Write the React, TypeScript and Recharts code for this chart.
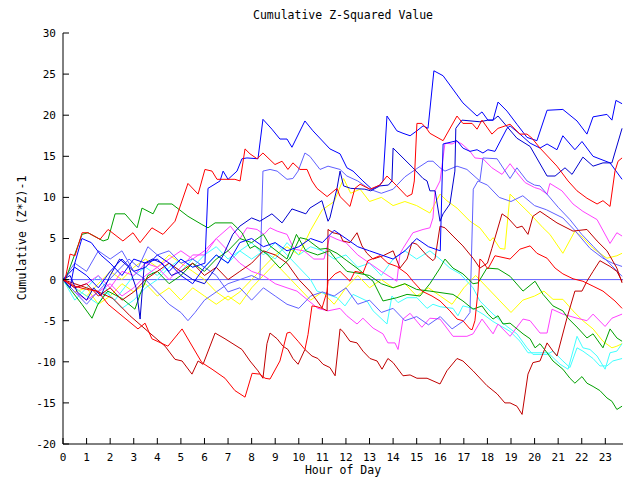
import React from 'react';
import { LineChart, Line, XAxis, YAxis, ReferenceLine } from 'recharts';

type P = [number, number];

const hourTicks = [0, 1, 2, 3, 4, 5, 6, 7, 8, 9, 10, 11, 12, 13, 14, 15, 16, 17, 18, 19, 20, 21, 22, 23];
const valueTicks = [-20, -15, -10, -5, 0, 5, 10, 15, 20, 25, 30];

const redTop: P[] = [[0,0],[0.08,-0.2],[0.3,3.1],[0.51,2.9],[0.81,5.7],[1.06,5.7],[1.57,4.9],[1.91,6.1],[2.54,4.7],[2.97,5.7],[3.27,4.5],[3.77,6.3],[4.24,5.5],[4.75,7.1],[5.3,11.7],[5.73,10.4],[6.02,13.4],[6.32,13.2],[6.53,12.2],[7.29,12.2],[7.51,12.0],[7.72,15.9],[7.93,15.3],[8.23,14.7],[8.48,15.4],[8.99,14.0],[9.29,14.4],[9.54,13.4],[9.75,14.2],[10.05,13.4],[10.35,13.4],[10.56,12.0],[10.77,11.1],[11.2,10.1],[11.62,11.1],[11.75,10.1],[12.17,8.9],[12.38,11.1],[12.6,11.6],[13.02,11.0],[13.44,11.5],[13.74,12.6],[14.16,11.4],[14.59,10.1],[14.8,10.4],[14.9,12.0],[15.01,19.0],[15.22,19.0],[15.44,18.3],[15.56,17.8],[16.12,16.9],[16.71,19.9],[16.96,19.0],[17.35,19.0],[17.56,18.3],[17.77,19.4],[18.19,17.7],[18.45,18.4],[18.96,18.9],[19.38,17.7],[19.68,17.7],[19.89,17.2],[20.23,16.0],[20.95,13.8],[21.42,12.0],[21.8,10.8],[22.22,9.9],[22.65,9.2],[22.9,9.6],[23.2,8.9],[23.41,13.2],[23.54,14.4],[23.71,14.8]];

const redBottom: P[] = [[0,0],[0.5,-0.8],[1.0,-1.2],[1.48,-1.4],[1.91,-3.0],[3.18,-6.0],[3.48,-5.3],[3.77,-7.2],[4.45,-8.1],[5.05,-6.0],[5.89,-10.1],[6.32,-10.9],[6.87,-12.0],[7.29,-13.5],[7.72,-14.3],[8.02,-11.4],[8.35,-11.5],[8.57,-12.0],[8.78,-12.1],[9.2,-9.9],[9.5,-6.5],[9.63,-6.4],[9.97,-7.5],[10.26,-8.5],[10.39,-6.7],[10.56,-3.2],[10.77,-3.3],[10.98,-3.5],[11.2,-1.4],[11.24,-0.2],[11.54,0.7],[11.75,1.0],[12.17,-0.2],[12.38,1.0],[12.72,0.8],[12.93,2.3],[13.44,2.9],[13.78,2.0],[14.16,1.6],[14.59,0.7],[14.84,-0.2],[15.22,-1.4],[15.65,-2.0],[15.99,-2.6],[16.41,-3.8],[16.71,-4.8],[16.96,-5.0],[17.26,-6.0],[17.35,-6.1],[17.47,-5.0],[17.6,-1.4],[17.68,2.5],[17.77,2.3],[18.02,1.3],[18.32,2.9],[18.96,2.5],[19.38,3.7],[19.81,4.1],[20.1,3.2],[20.53,2.6],[20.87,1.4],[21.2,0.7],[21.63,0.1],[22.05,-0.2],[22.48,-0.8],[22.9,-1.4],[23.41,-2.6],[23.71,-3.5]];

const darkRedTop: P[] = [[0,0],[0.5,-1],[1.0,-0.5],[1.5,-2],[2.0,-1],[2.5,-2.5],[3.0,-1.5],[3.5,0],[4.0,1],[4.5,2],[5.0,1],[5.5,2],[6.0,0.5],[6.5,1.5],[7.0,0],[7.5,1],[8.0,2],[8.5,3.5],[9.0,3],[9.5,2],[10.0,0],[10.5,-1.5],[11.0,-3.5],[11.2,-3.8],[11.24,6.1],[11.45,5.7],[11.75,5.5],[11.87,4.7],[12.17,4.5],[12.47,5.7],[12.68,4.1],[12.89,3.2],[13.15,2.5],[13.57,2.9],[14.0,3.5],[14.29,1.4],[14.59,2.5],[14.8,4.5],[15.01,4.3],[15.44,2.9],[15.69,2.3],[15.78,2.6],[15.99,6.5],[16.2,6.3],[16.54,5.3],[16.96,4.1],[17.39,2.6],[17.68,1.4],[18.0,2.0],[18.19,3.8],[18.62,8.0],[18.87,7.5],[19.25,6.3],[19.47,6.5],[19.72,5.5],[19.93,7.7],[20.23,8.3],[20.95,6.9],[21.63,5.9],[22.22,6.1],[22.65,4.7],[23.07,3.5],[23.49,1.4],[23.71,-0.4]];

const darkRedBottom: P[] = [[0,0],[0.5,-0.5],[1.0,-1],[1.5,-1.5],[2.12,-2.3],[2.84,-4.4],[3.6,-6.3],[4.33,-8.1],[4.75,-9.7],[5.05,-9.9],[5.47,-11.5],[5.73,-9.9],[5.94,-10.3],[6.45,-6.5],[6.87,-7.2],[7.59,-8.5],[7.93,-9.9],[8.27,-11.1],[8.48,-12.0],[8.65,-7.8],[8.78,-6.5],[9.08,-7.2],[9.33,-8.1],[9.54,-8.5],[9.75,-9.6],[9.97,-10.3],[10.26,-8.5],[10.56,-9.3],[10.81,-9.6],[11.03,-10.3],[11.32,-10.7],[11.54,-11.7],[11.75,-6.0],[11.87,-6.3],[12.17,-7.5],[12.47,-7.7],[12.72,-8.7],[13.02,-9.6],[13.32,-9.9],[13.53,-10.9],[13.78,-9.6],[14.0,-10.1],[14.42,-11.7],[14.72,-11.6],[15.01,-12.0],[15.44,-12.0],[15.99,-12.7],[16.28,-11.1],[16.71,-9.6],[16.96,-9.9],[17.39,-11.1],[17.98,-12.9],[18.41,-13.9],[18.74,-15.0],[18.96,-15.0],[19.25,-15.4],[19.47,-16.4],[19.72,-11.5],[19.93,-10.1],[20.23,-9.9],[20.53,-7.7],[20.78,-8.7],[20.95,-9.3],[21.37,-4.7],[21.71,-1.4],[22.01,-1.4],[22.22,-0.2],[22.48,1.0],[22.77,2.3],[23.2,1.6],[23.49,1.0],[23.71,-0.2]];

const blueA: P[] = [[0,0],[0.3,-1],[0.5,2],[0.8,5],[1.2,4.5],[1.6,3],[2.0,2],[2.5,0.5],[3.0,2.5],[3.5,2],[4.0,2.5],[4.5,1],[5.0,2.5],[5.5,1.5],[6.02,2.0],[6.15,11.1],[6.66,12.0],[6.79,13.2],[7.0,12.2],[7.38,13.2],[7.59,14.7],[7.8,14.8],[8.27,14.7],[8.48,19.5],[8.86,18.3],[9.2,17.1],[9.5,17.1],[9.71,16.1],[10.26,19.3],[10.6,18.1],[11.32,15.9],[11.75,15.3],[12.04,13.6],[12.3,13.2],[12.72,12.0],[13.1,11.0],[13.44,11.5],[13.57,12.0],[13.74,19.9],[14.16,18.1],[14.42,17.8],[14.72,17.5],[15.01,18.1],[15.27,18.7],[15.48,18.4],[15.73,25.4],[16.12,24.8],[16.96,21.5],[17.56,19.9],[17.77,20.4],[18.02,19.4],[18.24,19.4],[18.45,21.6],[18.83,20.5],[19.25,18.9],[19.68,17.3],[20.1,16.9],[20.53,20.6],[21.2,20.7],[21.8,19.3],[22.22,17.7],[22.48,19.8],[23.07,20.1],[23.28,19.4],[23.45,21.8],[23.71,21.4]];

const blueB: P[] = [[0,0],[0.3,0.5],[0.6,-1.5],[1.0,-2.5],[1.3,-1],[1.6,-2],[2.0,0.5],[2.4,2.5],[2.8,1.5],[3.1,-1],[3.27,-4.8],[3.45,2],[3.8,2.5],[4.2,2],[4.6,0.5],[5.0,1],[5.5,0],[6.0,-0.5],[6.5,1.5],[6.8,3],[7.2,5.5],[7.5,6.5],[8.0,7.5],[8.35,7.1],[8.86,8.0],[9.29,6.9],[9.71,8.6],[10.3,8.0],[10.47,8.7],[10.98,9.6],[11.24,7.1],[11.32,7.5],[11.62,11.1],[11.75,13.2],[11.9,11.4],[12.2,11.1],[12.8,11.0],[13.05,10.8],[13.44,11.4],[13.8,11.5],[13.95,12.0],[14.0,16.0],[14.42,14.8],[14.84,13.6],[15.27,12.3],[15.44,12.0],[15.56,10.8],[15.78,10.8],[15.99,7.1],[16.12,8.0],[16.41,9.2],[16.62,13.2],[16.66,18.4],[16.92,19.4],[17.68,19.2],[18.02,19.4],[18.24,19.4],[18.45,19.9],[19.25,17.2],[19.81,16.2],[20.53,12.6],[20.87,12.6],[21.29,13.6],[21.59,12.8],[22.05,14.9],[22.48,13.8],[22.9,14.2],[23.28,14.2],[23.71,18.4]];

const blueC: P[] = [[0,0],[0.5,1.5],[1.0,0.5],[1.5,-1],[2.0,1],[2.5,2.5],[3.0,1],[3.5,1.5],[4.0,3.0],[4.5,2],[5.0,0.5],[5.5,-0.5],[6.0,1.5],[6.5,3],[7.0,2],[7.5,4.5],[8.0,5],[8.5,4],[9.0,4.5],[9.5,3.5],[10.0,4],[10.5,5],[11.0,4.5],[11.5,6],[12.0,5],[12.5,4],[13.0,3.5],[13.5,3],[14.0,2.5],[14.5,3.5],[15.0,5],[15.5,4],[16.0,3.5],[16.12,16.5],[16.71,16.9],[16.96,16.0],[17.26,15.6],[17.56,15.8],[17.81,15.4],[18.02,15.8],[18.32,15.6],[18.83,18.4],[18.96,18.7],[19.38,17.7],[19.81,16.6],[20.23,16.0],[20.53,16.5],[20.95,15.8],[21.2,17.5],[21.71,15.8],[22.01,16.8],[22.48,15.0],[23.2,14.2],[23.71,12.2]];

const lightBlueA: P[] = [[0,0],[0.5,2],[1.0,1],[1.5,3.5],[2.0,2.5],[2.5,3.5],[3.0,1],[3.5,0],[4.0,-1.5],[4.5,-3],[5.0,-4],[5.3,-5],[5.6,-4],[6.0,-2.5],[6.5,-1.5],[7.0,-0.5],[7.5,0],[8.0,0.5],[8.35,0],[8.48,13.2],[8.78,13.4],[9.08,13.2],[9.5,12.2],[9.75,12.3],[9.97,13.2],[10.26,15.4],[10.47,15.0],[10.9,13.4],[11.24,13.8],[11.75,13.4],[12.04,12.6],[12.5,12],[13.0,11],[13.5,10.5],[14.0,11],[14.5,12.5],[15.0,13.5],[15.48,14.4],[15.69,14.4],[15.99,13.6],[16.2,13.2],[16.71,13.8],[17.13,13.4],[17.56,12.3],[17.68,12.0],[17.81,14.8],[18.41,14.7],[18.96,12.3],[19.25,13.6],[19.68,12.0],[20.0,11.5],[20.23,11.4],[21.0,8.8],[21.5,7.3],[22.0,5.5],[22.5,4],[23.0,2.5],[23.71,0.4]];

const lightBlueB: P[] = [[0,0],[0.5,-1.5],[1.0,-3],[1.3,-2],[1.8,-0.5],[2.3,1],[2.8,2.5],[3.2,1.5],[3.6,4],[4.0,3],[4.5,3.5],[5.0,2],[5.5,2.5],[6.0,1.5],[6.5,0.5],[7.0,-1.5],[7.5,-1],[8.0,-2.5],[8.5,-1],[9.0,-2],[9.5,-3],[10.0,-3.5],[10.5,-2],[11.0,-1.5],[11.5,-2],[12.0,-1],[12.5,-3],[13.0,-2.5],[13.5,-4],[14.0,-3.5],[14.5,-5],[15.0,-4.5],[15.5,-5.5],[16.0,-4.5],[16.5,-6],[17.0,-5],[17.26,-4],[17.4,11],[17.6,12],[18.0,11.5],[18.5,10],[19.0,9.5],[19.5,10.2],[20.0,9],[20.5,8.5],[21.2,7.5],[21.7,6],[22.35,3.8],[22.9,2.6],[23.3,2.0],[23.71,1.6]];

const greenA: P[] = [[0,0],[0.08,-0.2],[0.81,5.5],[1.06,5.7],[1.7,4.7],[1.91,4.9],[2.21,8.0],[2.63,8.0],[3.14,6.3],[3.35,8.7],[3.82,8.0],[4.03,9.2],[4.62,9.2],[5.3,7.7],[5.89,6.7],[6.15,6.3],[6.45,6.9],[7.17,6.9],[7.59,5.7],[7.93,3.8],[8.14,4.1],[8.65,3.1],[9.2,1.4],[9.63,2.6],[10.05,5.1],[10.35,4.9],[10.9,3.7],[11.2,3.8],[11.62,3.2],[12.04,2.3],[12.47,1.4],[12.89,0.4],[13.15,-0.2],[13.57,-2.6],[14.16,-2.2],[14.59,-1.8],[15.14,-2.0],[15.56,-0.5],[15.99,1.4],[16.2,2.5],[16.54,1.4],[16.96,0.7],[17.39,-0.5],[17.6,-0.4],[17.98,1.4],[18.45,1.3],[18.96,0.4],[19.51,-1.4],[20.02,-0.2],[20.36,-1.8],[20.78,-3.2],[21.2,-3.8],[21.42,-4.7],[21.84,-5.9],[22.22,-7.1],[22.48,-6.6],[22.9,-8.3],[23.2,-6.0],[23.49,-7.1],[23.71,-7.5]];

const greenB: P[] = [[0,0],[0.4,-1.5],[0.8,-3],[1.23,-4.7],[1.48,-3.0],[1.9,-1.4],[2.5,-2.3],[3.05,-3.6],[3.27,-1.8],[3.6,0.5],[4.0,1],[4.5,-0.5],[5.0,0.5],[5.5,2],[6.0,1],[6.5,2.5],[7.0,3.5],[7.5,5],[8.0,4.5],[8.5,5.5],[8.78,4.1],[9.5,2.5],[9.9,5.5],[10.3,3.5],[10.8,3.0],[11.3,3.5],[11.62,2.3],[12.04,1.0],[12.47,0.8],[13.0,0.5],[13.5,-0.5],[14.0,-1.0],[14.5,-0.5],[15.0,-1.2],[15.56,-1.4],[16.54,-1.8],[16.96,-2.6],[17.39,-3.6],[17.77,-3.2],[18.02,-4.2],[18.24,-4.8],[18.45,-4.4],[18.66,-5.4],[18.96,-5.3],[19.51,-6.6],[19.81,-7.2],[20.02,-8.3],[20.23,-7.8],[20.53,-8.9],[20.78,-9.9],[21.2,-10.9],[21.5,-12.0],[21.71,-12.6],[22.01,-11.8],[22.22,-12.6],[22.48,-13.0],[22.77,-13.5],[23.07,-14.4],[23.28,-14.8],[23.49,-15.8],[23.71,-15.4]];

const magentaA: P[] = [[0,0],[0.5,-1],[1.0,-0.5],[1.5,0.5],[2.0,-1],[2.5,1],[3.0,0.5],[3.5,2],[4.0,1.5],[4.5,0],[5.0,1.5],[5.5,3],[6.0,3],[6.5,5],[7.1,6.5],[7.51,5.0],[7.8,6.3],[8.23,6.1],[8.52,5.5],[8.78,6.3],[9.08,5.9],[9.5,5.5],[9.8,3.7],[10.22,3.5],[10.64,2.5],[11.07,2.5],[11.32,5.3],[11.62,4.9],[12.0,4.5],[12.5,3],[13.0,2],[13.5,1],[14.16,-0.2],[14.29,3.1],[14.42,3.8],[14.84,5.7],[15.27,6.1],[15.56,6.3],[15.69,7.5],[15.78,10.8],[15.99,12.0],[16.2,16.6],[16.5,16.5],[16.71,16.8],[16.92,16.5],[17.26,15.6],[17.47,14.8],[17.81,14.7],[18.19,13.6],[18.62,12.8],[18.96,14.1],[19.25,13.0],[19.6,11.8],[20.0,11.2],[20.23,11.0],[20.53,10.4],[20.65,11.7],[21.16,10.8],[21.63,9.2],[22.05,8.3],[22.65,7.3],[23.2,4.4],[23.49,5.7],[23.71,5.3]];

const magentaB: P[] = [[0,0],[0.5,-1.5],[1.0,-2.5],[1.5,-1.5],[2.0,-0.5],[2.5,-2],[3.0,-1],[3.5,0.5],[4.0,1.5],[4.5,2.5],[5.0,3.5],[5.5,2.5],[6.0,3.5],[6.5,5],[7.0,3.5],[7.5,2],[8.0,1],[8.5,0.5],[9.0,-0.5],[9.5,-1],[9.92,-1.4],[10.81,-3.5],[11.24,-3.8],[11.75,-3.5],[12.04,-4.4],[12.47,-5.4],[12.72,-4.7],[13.15,-5.9],[13.57,-6.6],[13.78,-7.7],[14.08,-7.7],[14.21,-8.5],[14.42,-4.8],[14.72,-4.1],[15.22,-5.8],[15.56,-4.7],[15.99,-4.8],[16.54,-6.9],[17.13,-6.9],[17.39,-6.6],[17.77,-4.8],[18.24,-6.6],[18.45,-5.4],[18.96,-6.9],[19.51,-4.8],[19.81,-5.0],[20.23,-6.5],[20.53,-6.5],[20.74,-3.6],[21.2,-4.2],[21.8,-4.7],[22.22,-5.0],[22.48,-4.2],[22.99,-5.7],[23.28,-4.7],[23.71,-4.2]];

const cyanA: P[] = [[0,0],[0.5,-1],[1.0,-2],[1.5,-3],[1.8,-1.5],[2.2,-2.5],[2.6,-1],[3.0,0.5],[3.5,1.5],[4.0,0.5],[4.5,2],[5.0,1],[5.5,2.5],[6.0,1.5],[6.5,3],[7.0,2],[7.5,3.5],[8.0,4.5],[8.5,3],[9.0,4.5],[9.5,3],[10.0,1.5],[10.5,0],[10.77,-1.4],[11.2,-1.8],[11.62,-2.2],[11.96,-3.2],[12.3,-1.8],[12.89,-2.6],[13.15,-3.8],[13.74,-5.4],[13.95,-2.0],[14.21,-2.8],[14.59,-2.2],[15.01,-2.2],[15.44,-3.5],[15.69,-3.0],[15.99,-3.3],[16.54,-3.5],[16.75,-4.4],[16.96,-3.2],[17.39,-3.5],[17.81,-4.2],[18.24,-5.1],[18.96,-6.3],[19.38,-7.5],[19.72,-8.9],[20.23,-8.9],[20.57,-8.9],[21.08,-10.3],[21.42,-10.9],[21.8,-6.9],[22.05,-8.3],[22.35,-8.5],[22.65,-9.3],[22.99,-10.9],[23.2,-8.9],[23.49,-8.7],[23.71,-7.8]];

const cyanB: P[] = [[0,0],[0.5,-2.5],[1.0,-1],[1.5,0.5],[2.0,-2],[2.5,-3.5],[3.0,-2.5],[3.5,-1],[4.0,0],[4.5,1.5],[5.0,2.5],[5.5,1.5],[6.0,3],[6.5,4],[7.0,2.5],[7.5,3.5],[8.0,2.5],[8.5,3.5],[9.0,2.5],[9.5,4.5],[10.0,3],[10.5,4],[11.0,3.5],[11.5,2.5],[12.0,3],[12.5,1.5],[13.0,2],[13.5,0.5],[14.0,2.5],[14.5,3.5],[15.0,2.5],[15.56,3.5],[15.99,2.5],[16.41,1.4],[16.84,0.7],[17.39,-1.0],[17.68,-2.6],[18.24,-4.2],[18.83,-5.7],[19.25,-6.6],[19.68,-8.3],[19.93,-9.1],[20.53,-9.1],[20.78,-8.7],[21.2,-9.9],[21.5,-10.7],[21.8,-8.3],[22.05,-8.7],[22.48,-9.6],[22.77,-10.5],[23.07,-10.5],[23.32,-9.9],[23.71,-9.6]];

const yellowA: P[] = [[0,0],[0.5,-1],[1.0,-2],[1.5,-0.5],[2.0,1],[2.5,0],[3.0,1.5],[3.5,2.5],[4.0,1.5],[4.5,3],[5.0,2],[5.5,1],[6.0,0],[6.5,-1.5],[7.0,-2.5],[7.5,-1.5],[8.0,0],[8.5,1.5],[9.0,3],[9.5,4],[10.0,3],[10.5,6],[11.0,8.5],[11.5,9.5],[11.9,12.3],[12.2,10.5],[12.6,11],[13.0,9.5],[13.5,10],[14.0,9],[14.5,9.5],[15.0,9],[15.56,8.1],[15.99,10.4],[16.28,9.6],[16.71,8.7],[17.26,7.1],[17.68,6.3],[18.11,4.7],[18.24,5.1],[18.53,3.8],[18.74,3.7],[18.96,10.4],[19.38,9.2],[19.81,8.0],[20.36,6.3],[20.65,5.5],[21.2,3.2],[21.71,5.9],[22.05,5.1],[22.48,3.8],[23.07,2.6],[23.49,2.9],[23.71,3.2]];

const yellowB: P[] = [[0,0],[0.5,-1.5],[1.0,-1],[1.5,-3],[2.0,-2],[2.5,-0.5],[3.0,-1.5],[3.5,-0.5],[4.0,-2],[4.5,-1],[5.0,-2.5],[5.5,-1],[6.0,-2],[6.5,-3],[7.0,-2],[7.5,-3],[8.0,-1],[8.5,0.5],[9.0,2],[9.5,0.5],[10.0,-1],[10.5,-2.5],[11.0,-1.5],[11.5,-3],[12.0,-1],[12.5,0.5],[13.0,-1],[13.5,0],[14.0,-1],[14.5,-0.5],[15.0,-2],[15.5,-1],[16.0,-2],[16.5,-3],[17.0,-1],[17.5,0.5],[18.0,-1],[18.5,-2.5],[19.0,-4],[19.5,-2.5],[20.0,-2],[20.4,-1.4],[20.78,-2.4],[21.2,-2.4],[21.63,-3.8],[22.05,-5.0],[22.48,-6.0],[22.9,-7.5],[23.28,-8.3],[23.49,-8.1],[23.71,-7.8]];

const seriesList: { name: string; color: string; pts: P[] }[] = [
  { name: 'yellowB', color: '#ffff00', pts: yellowB },
  { name: 'yellowA', color: '#ffff00', pts: yellowA },
  { name: 'cyanB', color: '#40ffff', pts: cyanB },
  { name: 'cyanA', color: '#40ffff', pts: cyanA },
  { name: 'magentaB', color: '#ff40ff', pts: magentaB },
  { name: 'magentaA', color: '#ff40ff', pts: magentaA },
  { name: 'lightBlueB', color: '#6060ff', pts: lightBlueB },
  { name: 'lightBlueA', color: '#6060ff', pts: lightBlueA },
  { name: 'greenB', color: '#00a000', pts: greenB },
  { name: 'greenA', color: '#00a000', pts: greenA },
  { name: 'darkRedTop', color: '#c00000', pts: darkRedTop },
  { name: 'darkRedBottom', color: '#c00000', pts: darkRedBottom },
  { name: 'blueC', color: '#0000ff', pts: blueC },
  { name: 'blueB', color: '#0000d0', pts: blueB },
  { name: 'blueA', color: '#0000ff', pts: blueA },
  { name: 'redBottom', color: '#ff0000', pts: redBottom },
  { name: 'redTop', color: '#ff0000', pts: redTop },
];

const FONT = '"DejaVu Sans Mono", "Liberation Mono", monospace';

export default function App() {
  const tickStyle = { fontFamily: FONT, fontSize: 11, fill: '#000' };
  return (
    <div style={{ position: 'absolute', left: 0, top: 0, width: 640, height: 480, background: '#fff' }}>
      <LineChart width={640} height={480} margin={{ top: 33, right: 17, bottom: 0, left: 0 }}>
        <XAxis xAxisId="b" type="number" dataKey="h" domain={[0, 23.75]} ticks={hourTicks} allowDataOverflow
          height={36} stroke="#000" tickSize={-6} tickMargin={15} tick={tickStyle} interval={0} />
        <XAxis xAxisId="t" orientation="top" type="number" dataKey="h" domain={[0, 23.75]} ticks={hourTicks} allowDataOverflow
          height={0} stroke="#000" tickSize={-6} tick={false} interval={0} />
        <YAxis yAxisId="l" type="number" domain={[-20, 30]} ticks={valueTicks} allowDataOverflow
          width={63} stroke="#000" tickSize={-6} tickMargin={13} tick={tickStyle} interval={0} />
        <YAxis yAxisId="r" orientation="right" type="number" domain={[-20, 30]} ticks={valueTicks} allowDataOverflow
          width={0} stroke="#000" tickSize={-6} tick={false} interval={0} />
        <ReferenceLine xAxisId="b" yAxisId="l" y={0} stroke="#6060ff" strokeWidth={1} />
        {seriesList.map((s) => (
          <Line key={s.name} xAxisId="b" yAxisId="l" data={s.pts.map(([h, v]) => ({ h, v }))} dataKey="v"
            type="linear" stroke={s.color} strokeWidth={1} dot={false} activeDot={false}
            isAnimationActive={false} />
        ))}
      </LineChart>
      <svg width={640} height={480} style={{ position: 'absolute', left: 0, top: 0, pointerEvents: 'none' }}>
        <text x={343} y={19} textAnchor="middle" fontFamily={FONT} fontSize={11.5} fill="#000">Cumulative Z-Squared Value</text>
        <text x={343} y={474} textAnchor="middle" fontFamily={FONT} fontSize={11.5} fill="#000">Hour of Day</text>
        <text x={22} y={238} textAnchor="middle" dominantBaseline="central" fontFamily={FONT} fontSize={11.5} fill="#000" transform="rotate(-90 22 238)">Cumulative (Z*Z)-1</text>
      </svg>
    </div>
  );
}
